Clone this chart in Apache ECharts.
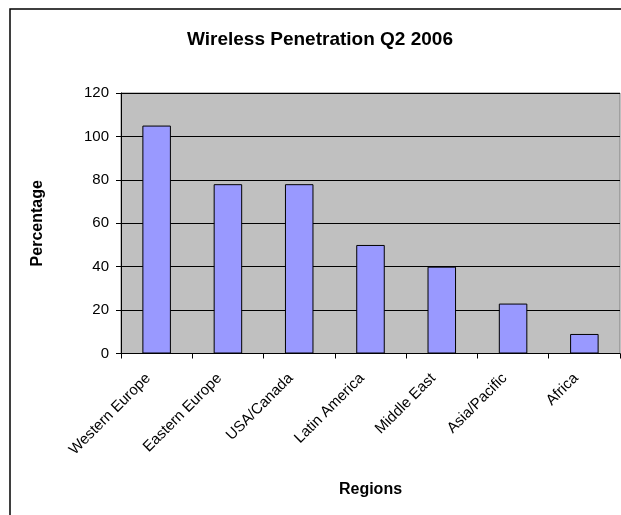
<!DOCTYPE html>
<html>
<head>
<meta charset="utf-8">
<script src="https://cdn.jsdelivr.net/npm/echarts@6/dist/echarts.min.js"></script>
<style>
html,body{margin:0;padding:0;background:#fff;}
#chart{width:621px;height:515px;}
</style>
</head>
<body>
<div id="chart"></div>
<script>
const categories = ["Western Europe", "Eastern Europe", "USA/Canada", "Latin America", "Middle East", "Asia/Pacific", "Africa"];
const values = [105, 78, 78, 50, 40, 23, 9];
const titleText = "Wireless Penetration Q2 2006";
const xName = "Regions";
const yName = "Percentage";

const chart = echarts.init(document.getElementById('chart'), null, {renderer: 'canvas'});
const font = 'Liberation Sans, Arial, sans-serif';
chart.setOption({
  animation: false,
  backgroundColor: '#ffffff',
  title: {
    text: titleText,
    left: 187,
    top: 30,
    padding: 0,
    textStyle: {fontFamily: font, fontSize: 19, fontWeight: 'bold', color: '#000'}
  },
  graphic: [{
    type: 'rect',
    shape: {x: 10, y: 9, width: 700, height: 600},
    style: {fill: 'none', stroke: '#000', lineWidth: 1.5},
    z: 100
  }],
  grid: {
    left: 121, right: 1, top: 93, bottom: 161.5,
    show: true, backgroundColor: '#C0C0C0', borderColor: '#808080', borderWidth: 1
  },
  xAxis: {
    type: 'category',
    data: categories,
    name: xName,
    nameLocation: 'middle',
    nameGap: 128,
    nameTextStyle: {fontFamily: font, fontSize: 16, fontWeight: 'bold', color: '#000', verticalAlign: 'top'},
    axisLine: {lineStyle: {color: '#000', width: 1}},
    axisTick: {show: true, alignWithLabel: false, length: 5, lineStyle: {color: '#000'}},
    axisLabel: {rotate: 45, margin: 14, padding: [0, 12, 0, 0], fontFamily: font, fontSize: 15, color: '#000', interval: 0},
    splitLine: {show: false}
  },
  yAxis: {
    type: 'value',
    min: 0, max: 120, interval: 20,
    name: yName,
    nameLocation: 'middle',
    nameGap: 75,
    nameTextStyle: {fontFamily: font, fontSize: 16, fontWeight: 'bold', color: '#000'},
    axisLine: {show: true, lineStyle: {color: '#000', width: 1}},
    axisTick: {show: true, length: 5, lineStyle: {color: '#000'}},
    axisLabel: {margin: 12, fontFamily: font, fontSize: 15, color: '#000'},
    splitLine: {show: true, lineStyle: {color: '#000', width: 1}}
  },
  series: [{
    type: 'bar',
    data: values,
    barWidth: '40%',
    itemStyle: {color: '#9999FF', borderColor: '#000', borderWidth: 1}
  }]
});
</script>
</body>
</html>
